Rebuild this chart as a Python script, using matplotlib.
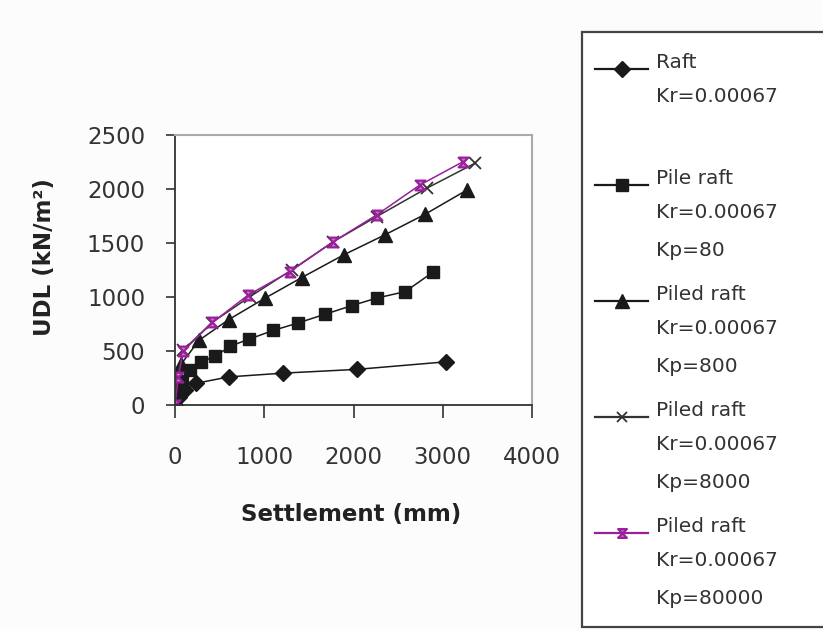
import numpy as np
from matplotlib import pyplot as plt
from matplotlib.path import Path
from matplotlib.lines import Line2D
from matplotlib.patches import Rectangle

W, H = 823, 631

# settlement (mm) vs uniformly distributed load (kN/m2)
raft_x = [0, 40, 110, 230, 600, 1210, 2040, 3040]
raft_y = [0, 70, 140, 200, 260, 295, 330, 400]

pile80_x = [0, 30, 80, 170, 290, 450, 620, 830, 1100, 1380, 1680, 1980, 2260, 2580, 2890]
pile80_y = [0, 120, 220, 320, 400, 450, 545, 610, 690, 760, 840, 920, 990, 1050, 1230]

pile800_x = [0, 20, 70, 270, 600, 1010, 1420, 1890, 2350, 2800, 3270]
pile800_y = [0, 180, 380, 600, 790, 990, 1180, 1390, 1575, 1765, 1990]

pile8000_x = [0, 20, 93, 411, 840, 1306, 1773, 2258, 2818, 3360]
pile8000_y = [0, 250, 509, 762, 1003, 1250, 1512, 1744, 2006, 2238]

pile80000_x = [0, 37, 93, 420, 821, 1288, 1773, 2258, 2744, 3228]
pile80000_y = [0, 255, 500, 765, 1019, 1235, 1512, 1759, 2037, 2253]

legend_labels = [
    ["Raft", "Kr=0.00067", ""],
    ["Pile raft", "Kr=0.00067", "Kp=80"],
    ["Piled raft", "Kr=0.00067", "Kp=800"],
    ["Piled raft", "Kr=0.00067", "Kp=8000"],
    ["Piled raft", "Kr=0.00067", "Kp=80000"],
]

x_ticks = [0, 1000, 2000, 3000, 4000]
y_ticks = [0, 500, 1000, 1500, 2000, 2500]

# hourglass marker (x closed by bars top and bottom)
hourglass = Path([(-1, 1), (1, 1), (-1, -1), (1, -1), (-1, 1)],
                 [Path.MOVETO, Path.LINETO, Path.LINETO, Path.LINETO, Path.CLOSEPOLY])

dark = "#1a1a1a"
purple = "#9a1f9a"

series = [
    (raft_x, raft_y, dict(color=dark, marker="D", ms=8.5, mfc=dark, mec=dark)),
    (pile80_x, pile80_y, dict(color=dark, marker="s", ms=9, mfc=dark, mec=dark)),
    (pile800_x, pile800_y, dict(color=dark, marker="^", ms=10.5, mfc=dark, mec=dark)),
    (pile8000_x, pile8000_y, dict(color="#333333", marker="x", ms=8, mew=1.3)),
    (pile80000_x, pile80000_y, dict(color=purple, marker=hourglass, ms=7, mfc="#c77fc7", mec=purple, mew=1.6)),
]


def fx(px):
    return px / W


def fy(py):
    return 1 - py / H


fig = plt.figure(figsize=(W / 100, H / 100), dpi=100, facecolor="#fcfcfc")
ax = fig.add_axes([fx(175), fy(405), fx(532) - fx(175), fy(135) - fy(405)])
ax.set_facecolor("white")

lines = []
for xs, ys, st in series:
    ln, = ax.plot(xs, ys, lw=1.1, **st)
    lines.append(ln)

ax.set_xlim(0, 4000)
ax.set_ylim(0, 2500)
ax.set_xticks(x_ticks)
ax.set_yticks(y_ticks)
ax.tick_params(axis="x", direction="out", length=9.5, width=1.2, pad=20,
               labelsize=16.5, colors="#333333")
ax.tick_params(axis="y", direction="out", length=6.5, width=1.2, pad=15,
               labelsize=16.5, colors="#333333")
for s in ["left", "bottom"]:
    ax.spines[s].set_color("#333333")
    ax.spines[s].set_linewidth(1.3)
for s in ["top", "right"]:
    ax.spines[s].set_color("#aaaaaa")
    ax.spines[s].set_linewidth(1.5)

fig.text(fx(351), fy(515), "Settlement (mm)", fontsize=16.5, fontweight="bold",
         color="#222222", ha="center", va="center")
fig.text(fx(45), fy(257), "UDL (kN/m²)", fontsize=16.5, fontweight="bold",
         color="#222222", ha="center", va="center", rotation=90)

# legend box
fig.add_artist(Rectangle((fx(582), fy(627)), fx(840) - fx(582), fy(32) - fy(627),
                         transform=fig.transFigure, facecolor="white",
                         edgecolor="#444444", lw=1.6))
offsets = [0, 35, 73]
for i, (ln, labels) in enumerate(zip(lines, legend_labels)):
    y0 = 62 + 116 * i
    h = Line2D([fx(595), fx(621.5), fx(648)], [fy(y0 + 7)] * 3, transform=fig.transFigure,
               color=ln.get_color(), lw=1.6, marker=ln.get_marker(),
               markersize=ln.get_markersize() * 0.9, markevery=[1],
               markerfacecolor=ln.get_markerfacecolor(),
               markeredgecolor=ln.get_markeredgecolor(),
               markeredgewidth=ln.get_markeredgewidth())
    fig.add_artist(h)
    for off, txt in zip(offsets, labels):
        fig.text(fx(656), fy(y0 + off), txt, fontsize=14.5, color="#333333",
                 ha="left", va="center")

plt.savefig("out.png", dpi=100, facecolor=fig.get_facecolor())
